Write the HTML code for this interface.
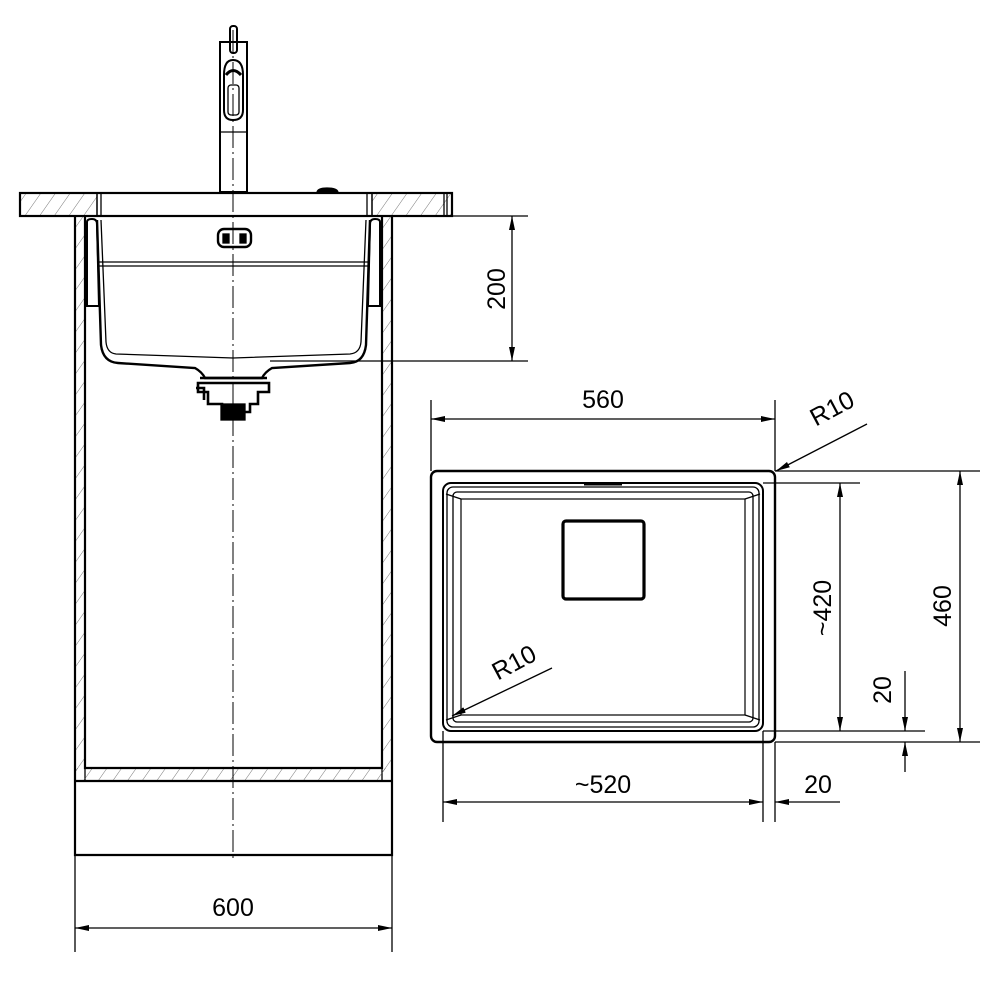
<!DOCTYPE html>
<html><head><meta charset="utf-8"><style>html,body{margin:0;padding:0;background:#fff}svg{display:block}text{font-family:"Liberation Sans",sans-serif;font-size:25px;fill:#000}</style></head>
<body>
<svg width="1000" height="1000" viewBox="0 0 1000 1000" xmlns="http://www.w3.org/2000/svg">
<defs>
<marker id="a" viewBox="0 0 14 6" refX="14" refY="3" markerWidth="14" markerHeight="6" markerUnits="userSpaceOnUse" orient="auto-start-reverse"><path d="M0 0L14 3L0 6z" fill="#000"/></marker>
<pattern id="h" width="12" height="12" patternUnits="userSpaceOnUse" patternTransform="rotate(35)"><line x1="0" y1="0" x2="0" y2="12" stroke="#555" stroke-width="0.8"/></pattern>
</defs>
<g fill="none" stroke="#000" stroke-width="1.3">
<!-- countertop -->
<rect x="20" y="193" width="77" height="23" fill="url(#h)"/>
<rect x="372" y="193" width="80" height="23" fill="url(#h)"/>
<rect x="20" y="193" width="432" height="23" stroke-width="2.2"/>
<line x1="97" y1="193" x2="97" y2="216"/><line x1="101" y1="193" x2="101" y2="216"/>
<line x1="367" y1="193" x2="367" y2="216"/><line x1="372" y1="193" x2="372" y2="216"/>
<line x1="444" y1="193" x2="444" y2="216"/><line x1="447" y1="193" x2="447" y2="216"/>
<path d="M317 192 Q318 188 327 188 Q337 188 338 192" fill="#000"/>
<!-- faucet -->
<rect x="220" y="42" width="27" height="150" stroke-width="2"/>
<rect x="230" y="26" width="7" height="27" rx="3" stroke-width="2"/>
<path d="M224 110 L224 75 Q224 60 233 60 Q243 60 243 75 L243 110 Q243 120 233 120 Q224 120 224 110Z" stroke-width="2"/>
<path d="M226 75 Q233 66 241 75" stroke-width="3"/>
<rect x="228" y="85" width="11" height="30" rx="3"/>
<line x1="220" y1="132" x2="247" y2="132"/>
<!-- cabinet -->
<rect x="75" y="216" width="10" height="565" fill="url(#h)"/>
<rect x="382" y="216" width="10" height="565" fill="url(#h)"/>
<rect x="75" y="768" width="317" height="13" fill="url(#h)" stroke="none"/>
<path d="M75 216 V855 H392 V216" stroke-width="2.2"/>
<path d="M85 216 V768 H382 V216" stroke-width="2.2"/>
<line x1="75" y1="781" x2="392" y2="781" stroke-width="2.2"/>
<!-- sink -->
<path d="M87 222 Q87 219 92 219 Q97 219 97 224 L99 306 L87 306 Z" stroke-width="2"/>
<path d="M380 222 Q380 219 375 219 Q370 219 370 224 L368 306 L380 306 Z" stroke-width="2"/>
<path d="M97 220 L101 345 Q103 362 118 363 L195 368 Q202 372 205 378 L262 378 Q265 372 272 368 L350 363 Q364 362 366 345 L370 220" stroke-width="2.4"/>
<path d="M101 220 L106 342 Q107 353 116 354 L233 358 L350 354 Q360 353 361 342 L366 220"/>
<line x1="97" y1="262" x2="370" y2="262"/><line x1="97" y1="266" x2="370" y2="266"/>
<rect x="218" y="229" width="33" height="18" rx="6" stroke-width="2.4"/>
<rect x="223" y="234" width="6" height="9" fill="#000"/><rect x="240" y="234" width="6" height="9" fill="#000"/>
<!-- drain -->
<path d="M200 378 H267 M198 383 H269 L269 392 L258 392 L258 404 L250 404 L250 412 L222 412 L222 404 L208 404 L208 392 L198 392 Z" stroke-width="2.6"/>
<path d="M196 388 H204 V400" stroke-width="2.6"/>
<rect x="221" y="404" width="24" height="16" fill="#000"/>
<!-- centerline -->
<line x1="233" y1="30" x2="233" y2="862" stroke-dasharray="22 4 2 4" stroke-width="1"/>
<!-- 200 dim -->
<line x1="392" y1="216" x2="528" y2="216"/><line x1="270" y1="361" x2="528" y2="361"/>
<line x1="512" y1="216" x2="512" y2="361" marker-start="url(#a)" marker-end="url(#a)"/>
<!-- 600 dim -->
<line x1="75" y1="855" x2="75" y2="952"/><line x1="392" y1="855" x2="392" y2="952"/>
<line x1="75" y1="928" x2="392" y2="928" marker-start="url(#a)" marker-end="url(#a)"/>
<!-- top view -->
<rect x="431" y="471" width="344" height="271" rx="6" stroke-width="2.4"/>
<rect x="443" y="483" width="320" height="248" rx="8" stroke-width="2"/>
<rect x="447" y="487" width="312" height="240" rx="6"/>
<rect x="453" y="492" width="300" height="230" rx="4"/>
<rect x="461" y="499" width="284" height="216" stroke-width="1.2"/>
<path d="M446 494 L461 499 M760 494 L745 499 M446 720 L461 715 M760 720 L745 715"/>
<line x1="584" y1="484" x2="622" y2="484" stroke-width="3"/>
<rect x="563" y="521" width="81" height="78" rx="3" stroke-width="3.2"/>
<!-- 560 -->
<line x1="431" y1="400" x2="431" y2="471"/><line x1="775" y1="400" x2="775" y2="471"/>
<line x1="431" y1="419" x2="775" y2="419" marker-start="url(#a)" marker-end="url(#a)"/>
<!-- R10 leaders -->
<line x1="867" y1="424" x2="776" y2="471" marker-end="url(#a)"/>
<line x1="552" y1="668" x2="452" y2="716" marker-end="url(#a)"/>
<!-- 460 -->
<line x1="775" y1="471" x2="980" y2="471"/><line x1="775" y1="742" x2="980" y2="742"/>
<line x1="960" y1="471" x2="960" y2="742" marker-start="url(#a)" marker-end="url(#a)"/>
<!-- 420 -->
<line x1="763" y1="483" x2="860" y2="483"/><line x1="763" y1="731" x2="925" y2="731"/>
<line x1="840" y1="483" x2="840" y2="731" marker-start="url(#a)" marker-end="url(#a)"/>
<!-- 20 vertical -->
<line x1="905" y1="671" x2="905" y2="731" marker-end="url(#a)"/>
<line x1="905" y1="772" x2="905" y2="742" marker-end="url(#a)"/>
<!-- 520 -->
<line x1="443" y1="731" x2="443" y2="822"/><line x1="763" y1="731" x2="763" y2="822"/><line x1="775" y1="742" x2="775" y2="822"/>
<line x1="443" y1="802" x2="763" y2="802" marker-start="url(#a)" marker-end="url(#a)"/>
<line x1="840" y1="802" x2="775" y2="802" marker-end="url(#a)"/>
</g>
<text x="233" y="916" text-anchor="middle">600</text>
<text transform="translate(505,289) rotate(-90)" text-anchor="middle">200</text>
<text x="603" y="408" text-anchor="middle">560</text>
<text transform="translate(836,416) rotate(-28)" text-anchor="middle">R10</text>
<text transform="translate(518,670) rotate(-28)" text-anchor="middle">R10</text>
<text transform="translate(951,606) rotate(-90)" text-anchor="middle">460</text>
<text transform="translate(831,608) rotate(-90)" text-anchor="middle">~420</text>
<text transform="translate(891,690) rotate(-90)" text-anchor="middle">20</text>
<text x="603" y="793" text-anchor="middle">~520</text>
<text x="818" y="793" text-anchor="middle">20</text>
</svg>
</body></html>
